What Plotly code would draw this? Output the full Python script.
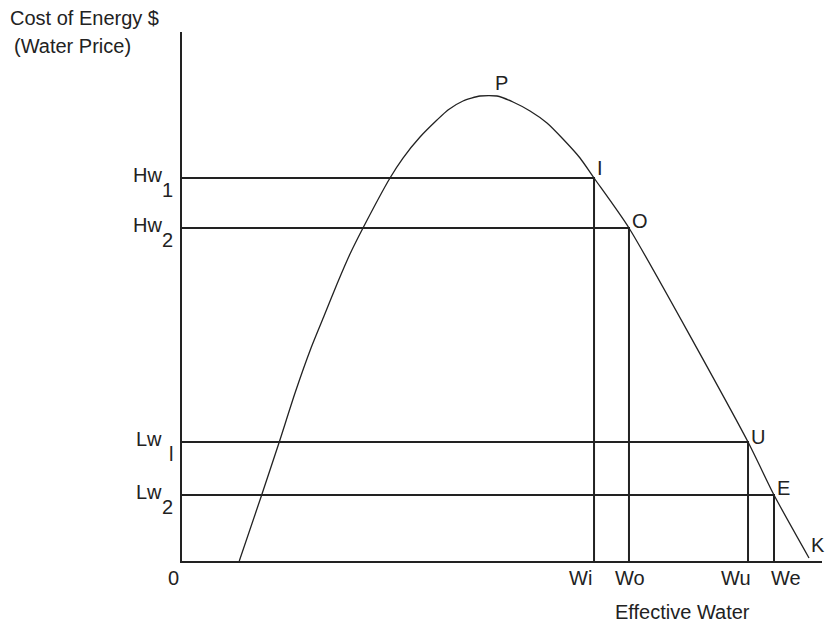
import plotly.graph_objects as go

# Curve (Effective Water vs Cost of Energy), in axis units 0..100
curve_x = [8.95, 12.45, 15.2, 17.66, 20.16, 22.19, 24.22, 26.25, 28.28, 32.5, 34.53, 37.19, 39.84,
           41.56, 43.91, 46.56, 49.22, 51.72, 54.38, 57.03, 59.53, 62.19, 64.38, 69.84, 88.44,
           92.5, 97.97]
curve_y = [0.0, 12.48, 22.5, 31.76, 40.26, 46.31, 52.36, 58.03, 62.95, 72.4, 76.18, 80.15, 83.36,
           85.26, 86.96, 87.9, 87.9, 86.77, 85.07, 82.8, 79.77, 76.18, 72.4, 62.95, 22.5,
           12.48, 0.57]

# Price levels (y) and matching quantities (x)
price_names = ["Hw", "Hw", "Lw", "Lw"]
price_subs = ["1", "2", "l", "2"]
price_vals = [72.4, 62.95, 22.5, 12.48]
qty_names = ["Wi", "Wo", "Wu", "We"]
qty_vals = [64.38, 69.84, 88.44, 92.5]
point_names = ["I", "O", "U", "E"]

peak_label = ("P", 48.0, 87.9)
end_label = ("K", 97.97, 0.57)

# label placement tweaks (pixels)
qty_label_shift = [-14, 1, -12, 12]
point_label_shift = [10, 7, 5, 7]

FONT = "Liberation Sans, Arial, sans-serif"
FS = 20
INK = "#222222"

fig = go.Figure()

fig.add_trace(go.Scatter(x=curve_x, y=curve_y, mode="lines",
                         line=dict(color=INK, width=1.3, shape="spline", smoothing=0.6),
                         hoverinfo="skip", showlegend=False))

for px, py in zip(qty_vals, price_vals):
    fig.add_trace(go.Scatter(x=[0, px, px], y=[py, py, 0], mode="lines",
                             line=dict(color=INK, width=2), hoverinfo="skip", showlegend=False))

font = dict(family=FONT, size=FS, color=INK)
annotations = []
for name, px, py, ys in zip(point_names, qty_vals, price_vals, point_label_shift):
    annotations.append(dict(x=px, y=py, text=name, showarrow=False, xanchor="left", yanchor="middle",
                            xshift=1, yshift=ys, font=font))
annotations.append(dict(x=peak_label[1], y=peak_label[2], text=peak_label[0], showarrow=False,
                        xanchor="left", yanchor="middle", xshift=4, yshift=13, font=font))
annotations.append(dict(x=end_label[1], y=end_label[2], text=end_label[0], showarrow=False,
                        xanchor="left", yanchor="middle", xshift=0, yshift=13, font=font))
# y labels with full-size lowered subscripts
for name, sub, py in zip(price_names, price_subs, price_vals):
    annotations.append(dict(x=0, y=py, text=name, showarrow=False, xanchor="right", yanchor="middle",
                            xshift=-18, yshift=3, font=font))
    annotations.append(dict(x=0, y=py, text=sub, showarrow=False, xanchor="right", yanchor="middle",
                            xshift=-7, yshift=-12, font=font))
annotations.append(dict(x=0, y=0, text="0", showarrow=False, xanchor="center", yanchor="top",
                        xshift=-9, yshift=-4, font=font))
for name, px, xs in zip(qty_names, qty_vals, qty_label_shift):
    annotations.append(dict(x=px, y=0, text=name, showarrow=False, xanchor="center", yanchor="top",
                            xshift=xs, yshift=-4, font=font))
annotations.append(dict(xref="paper", yref="paper", x=(8 - 182) / 640, y=(561 - 18) / 529,
                        text="Cost of Energy $", showarrow=False, xanchor="left", yanchor="middle",
                        font=font))
annotations.append(dict(xref="paper", yref="paper", x=(12 - 182) / 640, y=(561 - 46) / 529,
                        text="(Water Price)", showarrow=False, xanchor="left", yanchor="middle",
                        font=font))
annotations.append(dict(xref="paper", yref="paper", x=(682 - 182) / 640, y=(561 - 612) / 529,
                        text="Effective Water", showarrow=False, xanchor="center", yanchor="middle",
                        font=font))

fig.update_layout(
    width=827, height=625,
    margin=dict(l=182, r=5, t=32, b=64),
    paper_bgcolor="white", plot_bgcolor="white",
    annotations=annotations,
    xaxis=dict(range=[0, 100], showgrid=False, zeroline=False, showline=True, linecolor=INK,
               linewidth=2, showticklabels=False, ticks="", fixedrange=True),
    yaxis=dict(range=[0, 100], showgrid=False, zeroline=False, showline=True, linecolor=INK,
               linewidth=2, showticklabels=False, ticks="", fixedrange=True),
    showlegend=False,
)

fig.write_html("out.html", config={"displayModeBar": False},
               post_script="document.body.style.margin='0';document.body.style.overflow='hidden';")
